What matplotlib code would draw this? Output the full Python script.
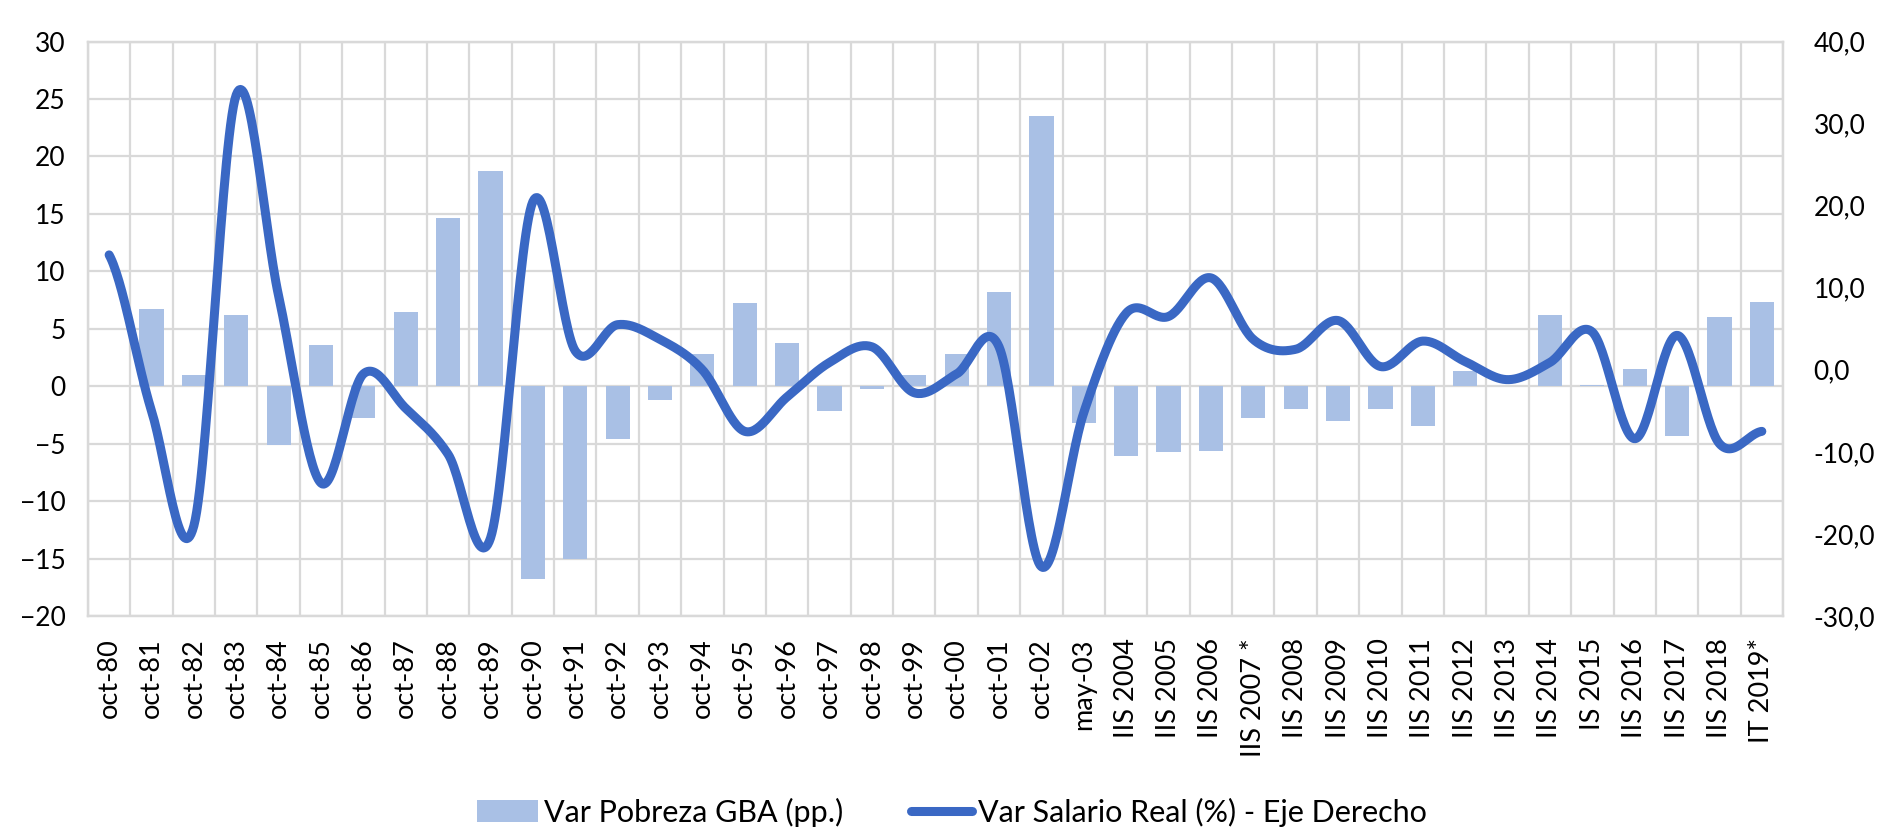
import numpy as np
import matplotlib
matplotlib.use("Agg")
import matplotlib.pyplot as plt
from matplotlib.ticker import FixedLocator, FuncFormatter
from matplotlib.lines import Line2D
from matplotlib.patches import Patch

plt.rcParams['font.family'] = ['Lato', 'DejaVu Sans']

periods = ['oct-80', 'oct-81', 'oct-82', 'oct-83', 'oct-84', 'oct-85', 'oct-86', 'oct-87',
           'oct-88', 'oct-89', 'oct-90', 'oct-91', 'oct-92', 'oct-93', 'oct-94', 'oct-95',
           'oct-96', 'oct-97', 'oct-98', 'oct-99', 'oct-00', 'oct-01', 'oct-02', 'may-03',
           'IIS 2004', 'IIS 2005', 'IIS 2006', 'IIS 2007 *', 'IIS 2008', 'IIS 2009',
           'IIS 2010', 'IIS 2011', 'IIS 2012', 'IIS 2013', 'IIS 2014', 'IS 2015',
           'IIS 2016', 'IIS 2017', 'IIS 2018', 'IT 2019*']

# Var Pobreza GBA (pp.) - left axis
pobreza = [0.0, 6.7, 1.0, 6.2, -5.1, 3.6, -2.8, 6.5, 14.6, 18.7,
           -16.8, -15.0, -4.6, -1.2, 2.8, 7.2, 3.8, -2.2, -0.2, 1.0,
           2.8, 8.2, 23.5, -3.2, -6.1, -5.7, -5.6, -2.8, -2.0, -3.0,
           -2.0, -3.5, 1.3, 0.0, 6.2, 0.1, 1.5, -4.3, 6.0, 7.3]

# Var Salario Real (%) - right axis
salario = [14.0, -5.0, -19.0, 33.5, 9.0, -13.8, -0.5, -4.7, -10.3, -20.5,
           20.5, 2.3, 5.5, 3.7, 0.0, -7.5, -3.3, 0.9, 2.8, -2.8,
           -0.5, 2.8, -24.0, -5.2, 6.9, 6.5, 11.2, 3.7, 2.5, 6.0,
           0.4, 3.5, 1.0, -1.2, 0.9, 4.6, -8.4, 4.2, -9.0, -7.5]

bar_color = '#A9C0E5'
line_color = '#3A68C4'
grid_color = '#D9D9D9'


def smooth(x, y, n=30):
    # Excel-style smoothed line (Catmull-Rom through the points)
    x = np.asarray(x, float)
    y = np.asarray(y, float)
    px = np.concatenate([[2 * x[0] - x[1]], x, [2 * x[-1] - x[-2]]])
    py = np.concatenate([[y[0]], y, [y[-1]]])
    xs, ys = [], []
    t = np.linspace(0, 1, n, endpoint=False)
    for i in range(1, len(px) - 2):
        for p, out in ((px, xs), (py, ys)):
            p0, p1, p2, p3 = p[i - 1], p[i], p[i + 1], p[i + 2]
            out.extend(0.5 * (2 * p1 + (-p0 + p2) * t + (2 * p0 - 5 * p1 + 4 * p2 - p3) * t ** 2
                              + (-p0 + 3 * p1 - 3 * p2 + p3) * t ** 3))
    xs.append(x[-1])
    ys.append(y[-1])
    return np.array(xs), np.array(ys)


fig = plt.figure(figsize=(18.87, 8.32), dpi=100)
ax = fig.add_axes([0.0466, 0.2596, 0.8983, 0.6905])
ax2 = ax.twinx()

x = np.arange(len(periods))
ax.bar(x, pobreza, width=0.57, color=bar_color, zorder=2)

sx, sy = smooth(x, salario)
ax2.plot(sx, sy, color=line_color, linewidth=6.5, solid_capstyle='round', zorder=3)

ax.set_xlim(-0.5, len(periods) - 0.5)
ax.set_ylim(-20, 30)
ax2.set_ylim(-30, 40)

ax.set_yticks(np.arange(-20, 31, 5))
ax2.set_yticks(np.arange(-30, 41, 10))
ax2.yaxis.set_major_formatter(FuncFormatter(lambda v, p: ('%.1f' % v).replace('.', ',')))

ax.set_xticks(x)
ax.set_xticklabels(periods, rotation=90, fontsize=19.5)
ax.xaxis.set_minor_locator(FixedLocator(np.arange(-0.5, len(periods), 1)))
ax.grid(True, which='minor', axis='x', color=grid_color, linewidth=1.6, zorder=0)
ax.grid(True, which='major', axis='y', color=grid_color, linewidth=1.6, zorder=0)
ax.set_axisbelow(True)

ax.tick_params(axis='both', which='both', length=0, colors='black')
ax.tick_params(axis='y', pad=16, labelsize=19)
ax.tick_params(axis='x', pad=16)
ax2.tick_params(axis='y', length=0, labelsize=19, pad=22)

for a in (ax, ax2):
    for s in a.spines.values():
        s.set_color(grid_color)
        s.set_linewidth(1.6)

handles = [Patch(facecolor=bar_color, edgecolor='none'),
           Line2D([0], [0], color=line_color, linewidth=6.5, solid_capstyle='round')]
fig.legend(handles, ['Var Pobreza GBA (pp.)', 'Var Salario Real (%) - Eje Derecho'],
           loc='center', bbox_to_anchor=(0.5045, 0.024), ncol=2, frameon=False,
           fontsize=22, handlelength=2.0, handletextpad=0.2, columnspacing=2.2)

fig.savefig('out.png', dpi=100, facecolor='white')
